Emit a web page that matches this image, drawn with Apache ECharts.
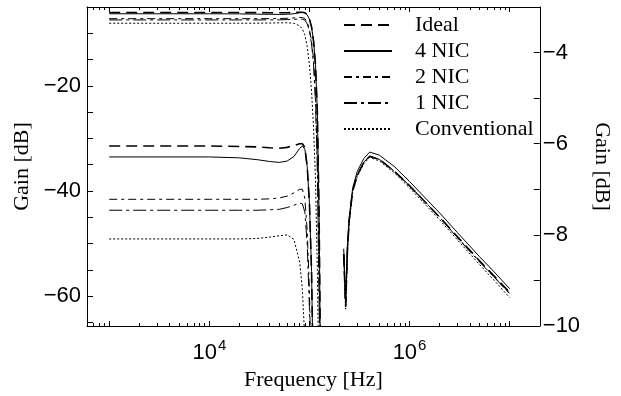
<!DOCTYPE html>
<html><head><meta charset="utf-8">
<script src="https://cdn.jsdelivr.net/npm/echarts@6/dist/echarts.min.js"></script>
<style>html,body{margin:0;padding:0;background:#fff}#c{width:621px;height:396px}</style>
</head><body><div id="c"></div>
<script>
// ---- data ----
const freq = [1e3, 3e3, 1e4, 2e4, 3e4, 4e4, 5e4, 6e4, 7e4, 8e4, 8.5e4, 9e4, 9.5e4, 1e5, 1.05e5, 1.1e5, 1.15e5, 1.2e5, 1.25e5, 1.3e5, 1.6e5, 2e5, 2.2e5, 2.3e5, 2.4e5, 2.5e5, 2.7e5, 3e5, 3.5e5, 4e5, 5e5, 7e5, 1e6, 2e6, 3e6, 5e6, 7e6, 1e7];
const ideal = [-6.05, -6.05, -6.05, -6.06, -6.07, -6.09, -6.10, -6.08, -6.04, -6.00, -6.00, -6.08, -6.5, -7.3, -8.8, -11.5, -16, -25, -45, -80, null, null, -52, -62, -51, -45.5, -40, -37, -34.5, -33.4, -34, -36.2, -39, -45, -48.7, -53.3, -56.2, -59.3];
const nic4 = [-6.29, -6.29, -6.29, -6.31, -6.35, -6.39, -6.41, -6.38, -6.28, -6.10, -6.05, -6.12, -6.5, -7.3, -8.8, -11.5, -16, -25, -45, -80, null, null, -51, -61, -50, -45, -39.5, -36.3, -33.8, -32.6, -33.2, -35.3, -38.2, -44.2, -47.9, -52.5, -55.4, -58.6];
const nic2 = [-7.22, -7.22, -7.22, -7.22, -7.22, -7.21, -7.19, -7.15, -7.08, -7.00, -7.00, -7.2, -7.9, -9.2, -11.5, -15, -22, -35, -60, -90, null, null, -52, -62, -51, -45.5, -40, -37, -34.5, -33.4, -34, -36.2, -39, -45, -48.8, -53.4, -56.3, -59.5];
const nic1 = [-7.46, -7.46, -7.46, -7.46, -7.46, -7.45, -7.44, -7.40, -7.35, -7.30, -7.32, -7.5, -8.2, -9.6, -12, -16, -23, -36, -60, -90, null, null, -52, -62, -51, -45.5, -40, -37, -34.5, -33.4, -34, -36.2, -39, -45, -48.9, -53.5, -56.4, -59.6];
const conventional = [-8.09, -8.09, -8.09, -8.09, -8.08, -8.05, -8.02, -8.00, -8.10, -8.6, -9.2, -10.3, -12.5, -16, -21, -28, -38, -55, -80, -95, null, null, -52.5, -62.5, -51.5, -45.8, -40.3, -37.3, -34.8, -33.6, -34.3, -36.5, -39.4, -45.5, -49.3, -54, -57, -60.3];
const seriesNames = ['Ideal', '4 NIC', '2 NIC', '1 NIC', 'Conventional'];

const xMajorTicks = [1e3, 1e4, 1e5, 1e6, 1e7];
const xLabelTicks = [1e4, 1e6];
const xMinorTicks = [700, 800, 900, 2e3, 3e3, 4e3, 5e3, 6e3, 7e3, 8e3, 9e3, 2e4, 3e4, 4e4, 5e4, 6e4, 7e4, 8e4, 9e4, 2e5, 3e5, 4e5, 5e5, 6e5, 7e5, 8e5, 9e5, 2e6, 3e6, 4e6, 5e6, 6e6, 7e6, 8e6, 9e6];
const leftTicks = [-65, -60, -55, -50, -45, -40, -35, -30, -25, -20, -15, -10];
const leftLabels = [-60, -40, -20];
const rightTicks = [-9, -8, -7, -6, -5, -4];
const rightLabels = [-10, -8, -6, -4];

// ---- styles ----
const styles = {
  'Ideal': {type: [11, 6], width: 1.6},
  '4 NIC': {type: 'solid', width: 1},
  '2 NIC': {type: [8, 4, 3, 4], width: 1},
  '1 NIC': {type: [13, 4, 3, 4], width: 1},
  'Conventional': {type: [2, 2], width: 1}
};
const dataSets = [ideal, nic4, nic2, nic1, conventional];

const serif = 'Liberation Serif';
const sans = 'Liberation Sans';
const minus = v => String(v).replace('-', '\u2212');

const series = [];
seriesNames.forEach((name, i) => {
  const pts = freq.map((f, j) => [f, dataSets[i][j] === null ? '-' : dataSets[i][j]]);
  [0, 1].forEach(ax => {
    series.push({
      name: name, type: 'line', xAxisIndex: 0, yAxisIndex: ax,
      data: pts, symbol: 'none', showSymbol: false, smooth: false, clip: true, connectNulls: false,
      lineStyle: {color: '#000', width: styles[name].width, type: styles[name].type},
      itemStyle: {color: '#000'},
      emphasis: {disabled: true}, animation: false, z: 3
    });
  });
});

const xBase = {type: 'log', logBase: 10, min: 600, max: 2e7, gridIndex: 0, splitLine: {show: false}};
const option = {
  animation: false,
  backgroundColor: '#fff',
  grid: {left: 87, right: 81, top: 7, bottom: 67, containLabel: false},
  legend: {
    orient: 'vertical', left: 343, top: 14, padding: 0, itemWidth: 48, itemHeight: 14, itemGap: 4,
    data: seriesNames, selectedMode: false,
    itemStyle: {opacity: 0},
    textStyle: {fontFamily: serif, fontSize: 22, color: '#000', lineHeight: 22, padding: [0, 0, 0, 18]}
  },
  xAxis: [
    Object.assign({}, xBase, {
      position: 'bottom',
      name: 'Frequency [Hz]', nameLocation: 'middle', nameGap: 43,
      nameTextStyle: {fontFamily: serif, fontSize: 22, color: '#000'},
      axisLine: {show: true, lineStyle: {color: '#000', width: 1}},
      axisTick: {show: true, inside: true, length: 5, customValues: xMajorTicks, lineStyle: {color: '#000'}},
      axisLabel: {show: true, customValues: xLabelTicks, margin: 12,
        formatter: v => '{b|10}{s|' + Math.round(Math.log10(v)) + '}',
        rich: {b: {fontFamily: sans, fontSize: 22, color: '#000', verticalAlign: 'bottom'},
               s: {fontFamily: sans, fontSize: 15, color: '#000', verticalAlign: 'bottom', padding: [0, 0, 11, 1]}}}
    }),
    Object.assign({}, xBase, {
      position: 'bottom', axisLine: {show: false},
      axisTick: {show: true, inside: true, length: 3, customValues: xMinorTicks, lineStyle: {color: '#000'}},
      axisLabel: {show: false}
    }),
    Object.assign({}, xBase, {
      position: 'top',
      axisLine: {show: true, lineStyle: {color: '#000', width: 1}},
      axisTick: {show: true, inside: true, length: 5, customValues: xMajorTicks, lineStyle: {color: '#000'}},
      axisLabel: {show: false}
    }),
    Object.assign({}, xBase, {
      position: 'top', axisLine: {show: false},
      axisTick: {show: true, inside: true, length: 3, customValues: xMinorTicks, lineStyle: {color: '#000'}},
      axisLabel: {show: false}
    })
  ],
  yAxis: [
    {
      type: 'value', position: 'left', min: -65.7, max: -5,
      name: 'Gain [dB]', nameLocation: 'middle', nameGap: 45, nameRotate: 90,
      nameTextStyle: {fontFamily: serif, fontSize: 22, color: '#000'},
      splitLine: {show: false},
      axisLine: {show: true, lineStyle: {color: '#000', width: 1}},
      axisTick: {show: true, inside: true, length: 6, customValues: leftTicks, lineStyle: {color: '#000'}},
      axisLabel: {show: true, customValues: leftLabels, margin: 6, formatter: minus,
        fontFamily: sans, fontSize: 22, color: '#000'}
    },
    {
      type: 'value', position: 'right', min: -10, max: -3,
      name: 'Gain [dB]', nameLocation: 'middle', nameGap: 43, nameRotate: -90,
      nameTextStyle: {fontFamily: serif, fontSize: 22, color: '#000'},
      splitLine: {show: false},
      axisLine: {show: true, lineStyle: {color: '#000', width: 1}},
      axisTick: {show: true, inside: true, length: 6, customValues: rightTicks, lineStyle: {color: '#000'}},
      axisLabel: {show: true, customValues: rightLabels, margin: 3, formatter: minus,
        fontFamily: sans, fontSize: 22, color: '#000'}
    }
  ],
  series: series
};
const chart = echarts.init(document.getElementById('c'), null, {renderer: 'canvas'});
chart.setOption(option);
</script>
</body></html>
